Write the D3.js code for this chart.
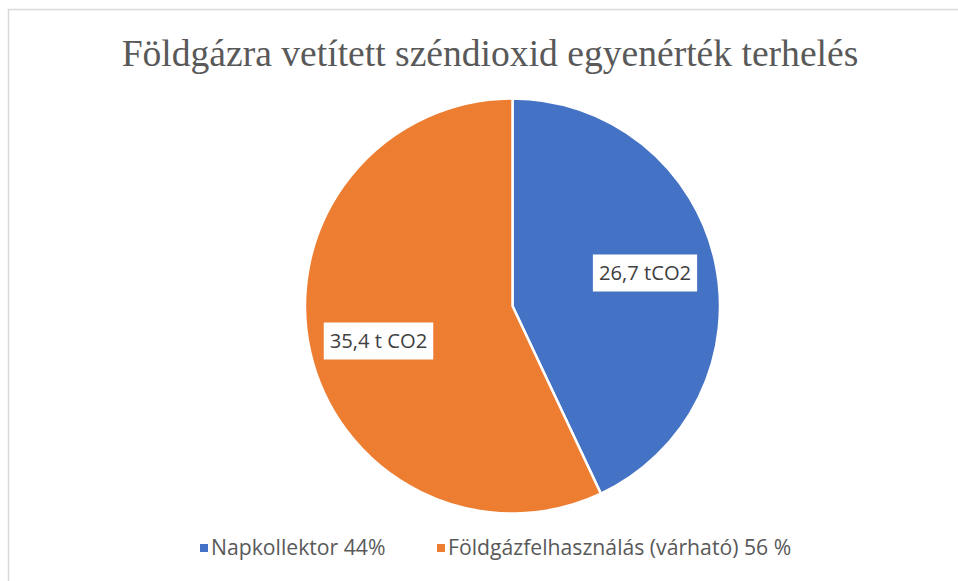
<!DOCTYPE html>
<html><head><meta charset="utf-8">
<script src="https://cdn.jsdelivr.net/npm/d3@7"></script>
<style>body{margin:0;background:#fff;} svg{display:block;}</style>
</head><body>
<svg id="chart" width="958" height="581"></svg>
<script>
const title = "Földgázra vetített széndioxid egyenérték terhelés";
const categories = ["Napkollektor 44%", "Földgázfelhasználás (várható) 56 %"];
const values = [26.7, 35.4];
const dataLabels = ["26,7 tCO2", "35,4 t CO2"];
const colors = ["#4472C4", "#ED7D31"];

const svg = d3.select("#chart");
svg.append("rect").attr("x", 8.5).attr("y", 9.5).attr("width", 980).attr("height", 600)
  .attr("fill", "#fff").attr("stroke", "#d9d9d9").attr("stroke-width", 1.5);

svg.append("text").attr("x", 490).attr("y", 66).attr("text-anchor", "middle")
  .attr("font-family", "'Liberation Serif', 'Times New Roman', serif").attr("font-size", 37.6)
  .attr("fill", "#595959").text(title);

const cx = 512.5, cy = 306, r = 207.5;
const pie = d3.pie().sort(null).value(d => d)(values);
const arc = d3.arc().innerRadius(0).outerRadius(r);
const g = svg.append("g").attr("transform", `translate(${cx},${cy})`);
g.selectAll("path").data(pie).join("path")
  .attr("d", arc).attr("fill", (d, i) => colors[i])
  .attr("stroke", "#fff").attr("stroke-width", 2.5).attr("stroke-linejoin", "round");

// data labels
const labelPos = [[645, 273], [378.5, 341]];
dataLabels.forEach((t, i) => {
  const lg = g.append("g").attr("transform", `translate(${labelPos[i][0]-cx},${labelPos[i][1]-cy})`);
  const txt = lg.append("text").attr("text-anchor", "middle").attr("dy", "0.35em")
    .attr("font-family", "'Open Sans', Lato, sans-serif").attr("font-size", 20.2)
    .attr("fill", "#404040").text(t);
  const bb = txt.node().getBBox();
  lg.insert("rect", "text").attr("x", bb.x - 6).attr("y", -18.5).attr("width", bb.width + 12).attr("height", 37)
    .attr("fill", "#fff");
});

// legend
const legendX = [200, 437];
categories.forEach((c, i) => {
  svg.append("rect").attr("x", legendX[i]).attr("y", 544).attr("width", 8).attr("height", 8).attr("fill", colors[i]);
  svg.append("text").attr("x", legendX[i] + 11).attr("y", 548).attr("dy", "0.35em")
    .attr("font-family", "'Open Sans', Lato, sans-serif").attr("font-size", 21.2)
    .attr("fill", "#595959").text(c);
});
</script>
</body></html>
